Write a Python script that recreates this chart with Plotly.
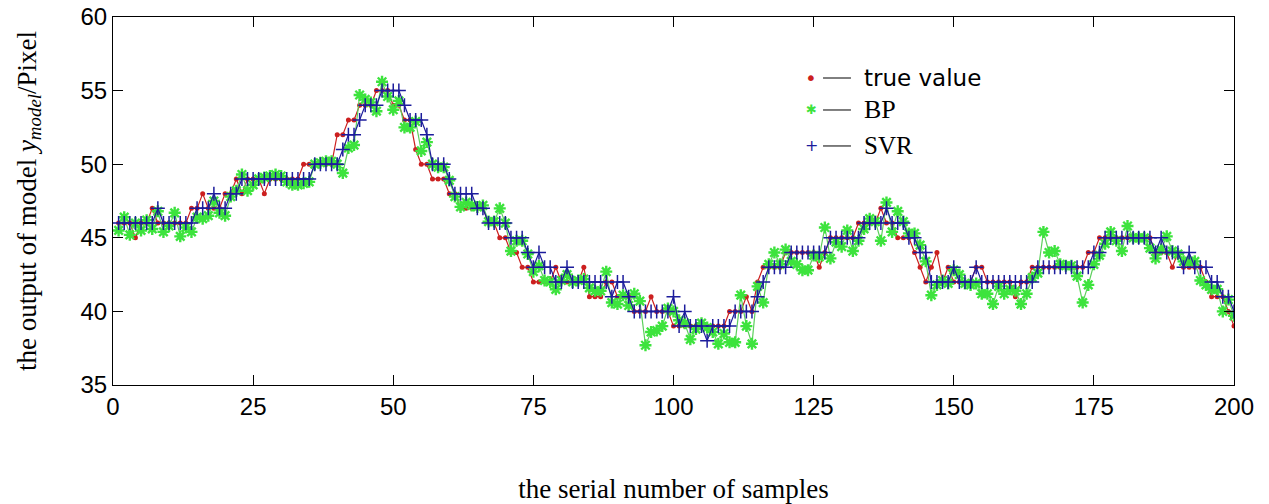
import plotly.graph_objects as go

samples = list(range(1, 201))

true_value = [
    46, 46, 46, 45, 46, 46, 47, 46, 46, 46,
    46, 46, 46, 47, 47, 48, 47, 47, 47, 48,
    48, 49, 48, 49, 49, 49, 48, 49, 49, 49,
    49, 49, 49, 50, 50, 50, 50, 50, 50, 52,
    52, 53, 53, 54, 54, 54, 55, 55, 55, 54,
    54, 53, 53, 51, 50, 50, 49, 49, 49, 48,
    48, 47, 47, 47, 47, 47, 46, 46, 45, 45,
    44, 44, 43, 43, 42, 42, 42, 42, 43, 42,
    42, 42, 42, 43, 41, 41, 41, 42, 42, 41,
    41, 41, 40, 40, 40, 41, 40, 40, 40, 39,
    39, 39, 39, 39, 39, 39, 39, 39, 39, 40,
    40, 40, 41, 40, 42, 43, 43, 43, 43, 44,
    44, 44, 44, 44, 44, 43, 44, 45, 45, 45,
    45, 45, 46, 46, 46, 46, 47, 46, 46, 45,
    45, 45, 44, 43, 42, 43, 44, 42, 43, 42,
    42, 42, 42, 43, 43, 42, 42, 42, 42, 42,
    41, 42, 42, 43, 43, 43, 43, 43, 43, 43,
    43, 43, 43, 44, 44, 45, 45, 45, 45, 45,
    45, 45, 45, 45, 45, 44, 44, 44, 43, 44,
    43, 43, 43, 43, 42, 41, 41, 41, 40, 39,
]

bp = [
    45.5, 46.4, 45.2, 46.0, 45.5, 46.2, 45.6, 46.8, 45.4, 45.8,
    46.7, 45.1, 45.7, 45.4, 46.4, 46.3, 46.5, 47.5, 46.7, 46.5,
    47.8, 48.2, 49.3, 48.2, 48.6, 49.0, 49.1, 49.2, 49.3, 49.2,
    48.8, 48.6, 48.6, 48.7, 48.8, 50.0, 50.1, 50.2, 50.2, 50.0,
    49.4, 51.1, 51.3, 54.7, 54.4, 54.2, 53.6, 55.6, 54.6, 53.7,
    54.3, 52.5, 52.5, 52.9, 50.9, 51.5, 50.0, 49.8, 49.8, 48.9,
    47.8, 47.1, 47.4, 47.2, 47.1, 47.2, 46.1, 46.1, 47.0, 46.0,
    44.1, 44.8, 44.8, 43.9, 42.7, 43.1, 42.1, 42.0, 41.5, 42.1,
    42.5, 42.0, 42.1, 42.2, 41.6, 41.4, 41.4, 42.7, 40.6, 40.5,
    41.1, 40.4, 41.2, 40.7, 37.7, 38.6, 38.7, 39.0, 40.2, 40.0,
    39.4, 39.2, 38.1, 38.8, 39.2, 38.9, 38.6, 37.8, 38.5, 37.9,
    37.9, 41.1, 39.0, 37.8, 41.7, 40.6, 43.2, 44.0, 43.2, 44.2,
    43.4, 43.2, 42.8, 42.8, 43.8, 43.7, 45.7, 43.6, 44.7, 44.4,
    45.5, 44.1, 44.8, 45.6, 46.3, 46.1, 44.8, 47.4, 45.4, 46.8,
    46.1, 45.3, 45.3, 44.5, 43.4, 41.1, 41.8, 42.1, 41.9, 42.8,
    42.5, 41.9, 41.8, 41.9, 41.2, 41.2, 40.5, 41.7, 41.2, 41.5,
    41.4, 40.5, 41.2, 42.3, 42.6, 45.4, 44.0, 44.1, 43.2, 43.1,
    43.1, 42.4, 40.6, 41.8, 43.2, 43.8, 44.6, 45.4, 44.8, 44.1,
    45.8, 45.0, 45.0, 45.0, 44.3, 43.6, 44.2, 45.1, 44.1, 43.9,
    43.4, 43.4, 43.4, 42.1, 41.8, 41.5, 41.5, 40.0, 40.8, 39.7,
]

svr = [
    46, 46, 46, 46, 46, 46, 46, 47, 46, 46,
    46, 46, 46, 46, 47, 47, 47, 48, 47, 47,
    48, 48, 49, 49, 49, 49, 49, 49, 49, 49,
    49, 49, 49, 49, 49, 50, 50, 50, 50, 50,
    51, 52, 52, 53, 54, 54, 54, 55, 55, 55,
    55, 54, 53, 53, 53, 52, 50, 50, 50, 49,
    48, 48, 48, 48, 47, 47, 46, 46, 46, 46,
    45, 45, 45, 44, 43, 44, 43, 43, 42, 42,
    43, 42, 42, 42, 42, 42, 42, 42, 41, 42,
    42, 41, 40, 40, 40, 40, 40, 40, 40, 41,
    39, 40, 39, 39, 39, 38, 39, 39, 39, 39,
    40, 40, 40, 40, 41, 42, 43, 43, 43, 43,
    44, 44, 44, 44, 44, 44, 44, 45, 45, 45,
    45, 45, 45, 46, 46, 46, 46, 47, 46, 46,
    46, 45, 45, 44, 44, 42, 42, 42, 42, 43,
    42, 42, 42, 43, 42, 42, 42, 42, 42, 42,
    42, 42, 42, 42, 43, 43, 43, 43, 43, 43,
    43, 43, 43, 43, 44, 44, 45, 45, 45, 45,
    45, 45, 45, 45, 45, 44, 45, 44, 44, 44,
    43, 44, 43, 43, 43, 42, 42, 41, 41, 40,
]

x_ticks = [0, 25, 50, 75, 100, 125, 150, 175, 200]
y_ticks = [35, 40, 45, 50, 55, 60]

RED = "#cc1f1f"
GREEN = "#3de33d"
GREEN_LINE = "#5ccf5c"
BLUE = "#1c1c9c"

fig = go.Figure()
fig.add_trace(go.Scatter(
    x=samples, y=true_value, mode="lines+markers", name="true value",
    line=dict(color=RED, width=1.2),
    marker=dict(symbol="circle", size=5, color=RED),
    showlegend=False))
fig.add_trace(go.Scatter(
    x=samples, y=bp, mode="lines+markers", name="BP",
    line=dict(color=GREEN_LINE, width=1.2),
    marker=dict(symbol="asterisk-open", size=10, color=GREEN,
                line=dict(color=GREEN, width=2.4)),
    showlegend=False))
fig.add_trace(go.Scatter(
    x=samples, y=svr, mode="lines+markers", name="SVR",
    line=dict(color=BLUE, width=1.2),
    marker=dict(symbol="cross-thin-open", size=10, color=BLUE,
                line=dict(color=BLUE, width=1.5)),
    showlegend=False))

SANS = "Liberation Sans, Arial, sans-serif"
SERIF = "Liberation Serif, Times New Roman, serif"

axis_common = dict(
    showgrid=False, zeroline=False, showline=True, linecolor="black",
    linewidth=1, mirror="ticks", ticks="inside", ticklen=10,
    tickcolor="black", tickwidth=1, automargin=False,
    tickfont=dict(family=SANS, size=24, color="black"),
)

fig.update_layout(
    template="none",
    width=1269, height=504, autosize=False,
    margin=dict(l=113, r=35, t=17, b=119, pad=0),
    paper_bgcolor="white", plot_bgcolor="white",
    xaxis=dict(range=[0, 200], tickvals=x_ticks, **axis_common,
               title=dict(text="the serial number of samples",
                          font=dict(family=SERIF, size=27, color="black"),
                          standoff=61)),
    yaxis=dict(range=[35, 60], tickvals=y_ticks, **axis_common,
               title=dict(text="the output of model <i>y</i><sub><i>model</i></sub>/Pixel",
                          font=dict(family=SERIF, size=27, color="black"),
                          standoff=36)),
)

# legend (drawn as text + short black lines, MATLAB style)
rows = [
    ("•", RED, 20, "DejaVu Sans", "true value", "DejaVu Sans", 23, 0.8342),
    ("✱", GREEN, 13, "DejaVu Sans", "BP", SERIF, 26, 0.7473),
    ("+", BLUE, 16, "DejaVu Sans", "SVR", SERIF, 25, 0.6495),
]
for glyph, col, gsize, gfam, label, lfam, lsize, yy in rows:
    fig.add_annotation(xref="paper", yref="paper", x=0.6227, y=yy,
                       text=glyph, showarrow=False, xanchor="center", yanchor="middle",
                       font=dict(family=gfam, size=gsize, color=col))
    fig.add_shape(type="line", xref="paper", yref="paper",
                  x0=0.6334, x1=0.6583, y0=yy, y1=yy,
                  line=dict(color="black", width=1))
    fig.add_annotation(xref="paper", yref="paper", x=0.6682, y=yy,
                       text=label, showarrow=False, xanchor="left", yanchor="middle",
                       font=dict(family=lfam, size=lsize, color="black"))

fig.write_html("out.html", config={"displayModeBar": False},
               post_script="document.body.style.margin='0px';document.body.style.overflow='hidden';")
